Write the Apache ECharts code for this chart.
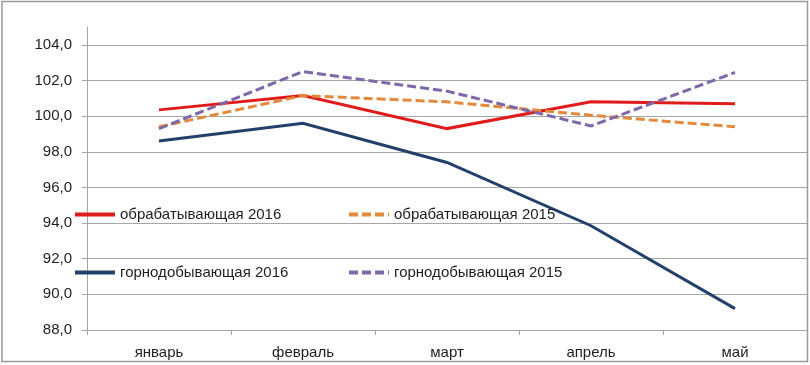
<!DOCTYPE html>
<html>
<head>
<meta charset="utf-8">
<script src="https://cdn.jsdelivr.net/npm/echarts@6/dist/echarts.min.js"></script>
<style>
html,body{margin:0;padding:0;background:#fff;}
#chart{width:810px;height:365px;}
</style>
</head>
<body>
<div id="chart"></div>
<script>
const categories = ['январь', 'февраль', 'март', 'апрель', 'май'];
const manuf2016 = [100.35, 101.15, 99.3, 100.8, 100.7];
const manuf2015 = [99.4, 101.15, 100.8, 100.05, 99.4];
const mining2016 = [98.6, 99.6, 97.4, 93.85, 89.2];
const mining2015 = [99.3, 102.5, 101.4, 99.45, 102.45];
const names = ['обрабатывающая 2016', 'обрабатывающая 2015', 'горнодобывающая 2016', 'горнодобывающая 2015'];
const yTicks = [88, 90, 92, 94, 96, 98, 100, 102, 104];

const FONT = 'Liberation Sans';
const textColor = '#1e1e1e';
const gridColor = '#A6A6A6';

const chart = echarts.init(document.getElementById('chart'), null, {renderer: 'canvas'});

function lineSeries(name, data, color, dashed) {
  return {
    name: name,
    type: 'line',
    data: data,
    symbol: 'none',
    showSymbol: false,
    smooth: false,
    color: color,
    lineStyle: {color: color, width: 3, type: dashed ? [9, 4] : 'solid', cap: 'butt', join: 'miter'},
    itemStyle: {color: color},
    z: 3
  };
}

function legendAt(name, left, top) {
  return {
    data: [{name: name}],
    left: left,
    top: top,
    itemWidth: 40,
    itemHeight: 14,
    itemGap: 5,
    padding: 0,
    selectedMode: false,
    itemStyle: {color: 'rgba(0,0,0,0)', borderWidth: 0, opacity: 0},
    lineStyle: {width: 4},
    textStyle: {fontFamily: FONT, fontSize: 15, color: textColor}
  };
}

const option = {
  backgroundColor: '#ffffff',
  animation: false,
  textStyle: {fontFamily: FONT},
  graphic: [{
    type: 'rect',
    shape: {x: 2, y: 1.5, width: 805.5, height: 360},
    style: {fill: 'none', stroke: '#9a9a9a', lineWidth: 1.5},
    silent: true,
    z: 10
  }],
  legend: [
    legendAt(names[0], 73, 207),
    legendAt(names[1], 347, 207),
    legendAt(names[2], 73, 265),
    legendAt(names[3], 347, 265)
  ],
  grid: {left: 87, right: 3, top: 27, bottom: 35, containLabel: false},
  xAxis: {
    type: 'category',
    data: categories,
    boundaryGap: true,
    axisLine: {show: true, lineStyle: {color: gridColor, width: 1}},
    axisTick: {show: true, inside: false, length: 5, lineStyle: {color: gridColor}},
    axisLabel: {fontFamily: FONT, fontSize: 15, color: textColor, margin: 15},
    splitLine: {show: false}
  },
  yAxis: {
    type: 'value',
    min: 88,
    max: 105,
    interval: 2,
    axisLine: {show: true, lineStyle: {color: gridColor, width: 1}},
    axisTick: {show: true, length: 5, lineStyle: {color: gridColor}, customValues: yTicks},
    axisLabel: {
      fontFamily: FONT, fontSize: 15, color: textColor, margin: 15,
      customValues: yTicks,
      formatter: function (v) { return v.toFixed(1).replace('.', ','); }
    },
    splitLine: {show: true, lineStyle: {color: gridColor, width: 1}}
  },
  series: [
    lineSeries(names[0], manuf2016, '#E01B1B', false),
    lineSeries(names[1], manuf2015, '#E2893C', true),
    lineSeries(names[2], mining2016, '#23406A', false),
    lineSeries(names[3], mining2015, '#7E68A8', true)
  ]
};
chart.setOption(option);
</script>
</body>
</html>
